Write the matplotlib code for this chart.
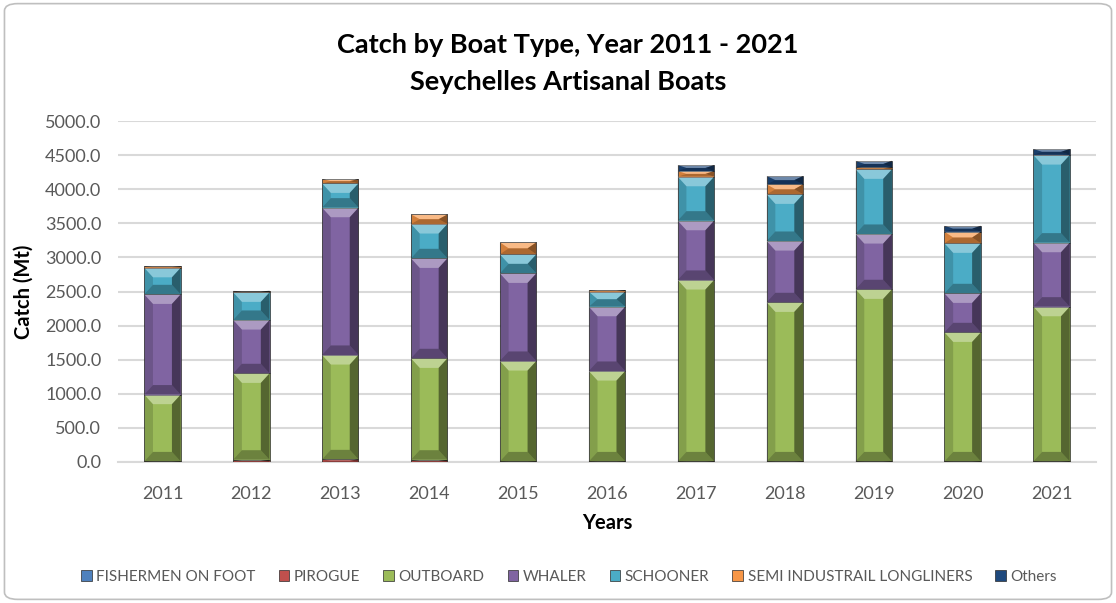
import numpy as np
import matplotlib.pyplot as plt
from matplotlib.patches import FancyBboxPatch, Polygon

plt.rcParams['font.family'] = ['Lato', 'DejaVu Sans']

years = ['2011', '2012', '2013', '2014', '2015', '2016', '2017', '2018', '2019', '2020', '2021']

# valores (Mt)
fishermen_on_foot = [3, 3, 3, 3, 3, 3, 3, 3, 3, 3, 3]
pirogue = [5, 30, 35, 30, 5, 5, 5, 5, 5, 5, 5]
outboard = [980, 1267, 1531, 1487, 1473, 1326, 2661, 2333, 2524, 1893, 2269]
whaler = [1470, 782, 2160, 1466, 1285, 943, 869, 899, 811, 572, 939]
schooner = [390, 406, 357, 504, 279, 220, 645, 685, 949, 734, 1285]
semi_longliners = [20, 24, 64, 141, 176, 25, 84, 147, 29, 170, 5]
others = [0, 0, 0, 0, 0, 0, 88, 122, 97, 88, 84]

series = [
    ('FISHERMEN ON FOOT', fishermen_on_foot, '#4F81BD'),
    ('PIROGUE', pirogue, '#C0504D'),
    ('OUTBOARD', outboard, '#9BBB59'),
    ('WHALER', whaler, '#8064A2'),
    ('SCHOONER', schooner, '#4BACC6'),
    ('SEMI INDUSTRAIL LONGLINERS', semi_longliners, '#F79646'),
    ('Others', others, '#1F497D'),
]

fig = plt.figure(figsize=(11.16, 6.03), dpi=100)
ax = fig.add_axes([118 / 1116, 1 - 462 / 603, 978 / 1116, 341 / 603])

# marco redondeado
fig.patches.append(FancyBboxPatch((0.004, 0.006), 0.992, 0.988, boxstyle='round,pad=0,rounding_size=0.012',
                                  transform=fig.transFigure, facecolor='none', edgecolor='#BFBFBF', linewidth=1.2))

x = np.arange(len(years))
bottom = np.zeros(len(years))
for name, vals, col in series:
    vals = np.array(vals, dtype=float)
    bars = ax.bar(x, vals, 0.41, bottom=bottom, color=col, edgecolor='#2a2a2a', linewidth=0.5, label=name, zorder=3)
    bottom += vals
    # efecto bisel (como en Excel)
    for r in bars:
        x0, y0, w, h = r.get_x(), r.get_y(), r.get_width(), r.get_height()
        if h < 1:
            continue
        bx = w * 0.24
        by = min(140.0, h / 2)
        bxx = min(bx, w / 2)
        x1, y1 = x0 + w, y0 + h
        caras = [
            ([(x0, y1), (x1, y1), (x1 - bxx, y1 - by), (x0 + bxx, y1 - by)], 'white', 0.35),
            ([(x0, y0), (x1, y0), (x1 - bxx, y0 + by), (x0 + bxx, y0 + by)], 'black', 0.30),
            ([(x0, y0), (x0, y1), (x0 + bxx, y1 - by), (x0 + bxx, y0 + by)], 'black', 0.15),
            ([(x1, y0), (x1, y1), (x1 - bxx, y1 - by), (x1 - bxx, y0 + by)], 'black', 0.45),
        ]
        for pts, c, a in caras:
            ax.add_patch(Polygon(pts, closed=True, facecolor=c, alpha=a, edgecolor='none', zorder=4))

ax.set_xlim(-0.5, 10.5)
ax.set_ylim(0, 5000)
ax.set_yticks(np.arange(0, 5001, 500))
ax.set_yticklabels([f'{v:.1f}' for v in np.arange(0, 5001, 500)])
ax.set_xticks(x)
ax.set_xticklabels(years)
ax.tick_params(axis='both', length=0, labelsize=13, colors='#595959')
ax.tick_params(axis='x', pad=17)
ax.tick_params(axis='y', pad=12)
ax.grid(axis='y', color='#D9D9D9', linewidth=1.5, zorder=0)
for s in ['top', 'right', 'left']:
    ax.spines[s].set_visible(False)
ax.spines['bottom'].set_color('#D9D9D9')
ax.spines['bottom'].set_linewidth(1.5)

ax.set_xlabel('Years', fontsize=14.5, fontweight='bold', labelpad=8)
ax.set_ylabel('Catch (Mt)', fontsize=14.5, fontweight='bold', labelpad=8)

fig.text(0.509, 1 - 45 / 603, 'Catch by Boat Type, Year 2011 - 2021', ha='center', va='center',
         fontsize=19.5, fontweight='bold')
fig.text(0.509, 1 - 82 / 603, 'Seychelles Artisanal Boats', ha='center', va='center',
         fontsize=19.5, fontweight='bold')

fig.legend(loc='center', bbox_to_anchor=(0.51, 1 - 577 / 603), ncol=7, frameon=False,
           fontsize=11, handlelength=0.7, handleheight=0.7, handletextpad=0.3, columnspacing=1.5,
           labelcolor='#595959')

fig.savefig('out.png', dpi=100)
